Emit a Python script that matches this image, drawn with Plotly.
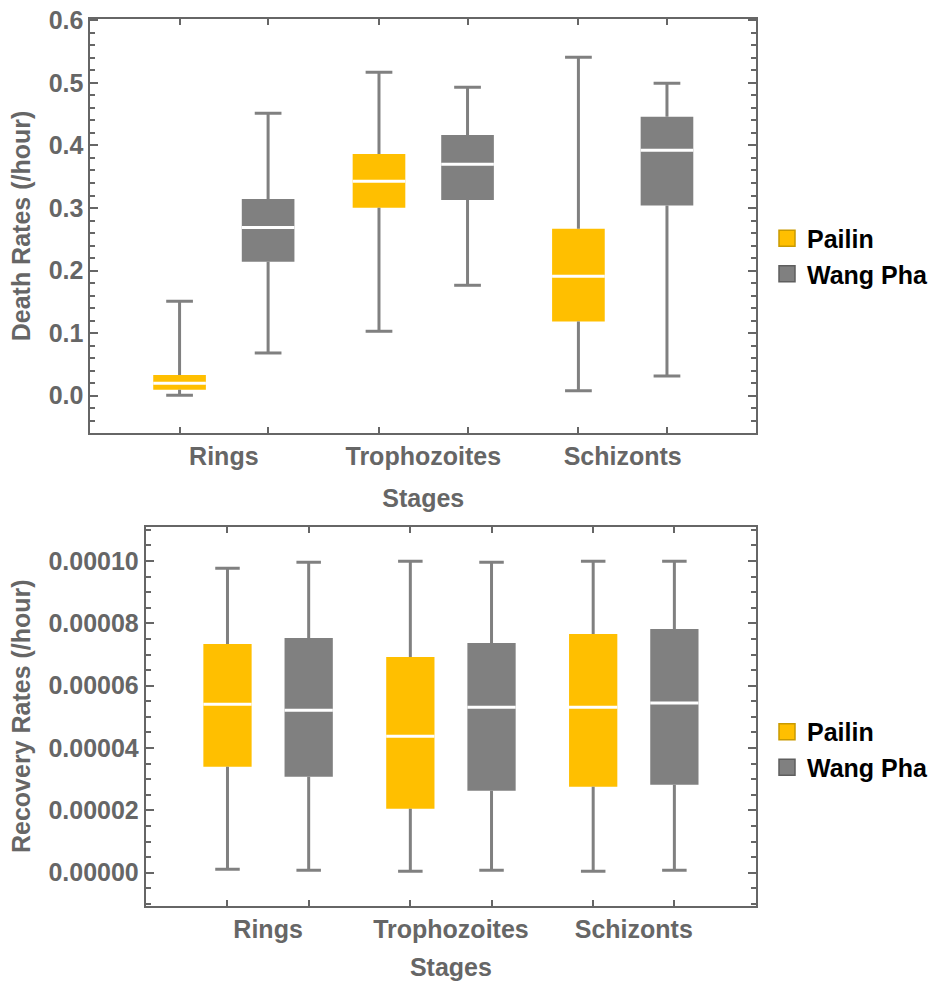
import plotly.graph_objects as go

# ---------------- data ----------------
stages = ["Rings", "Trophozoites", "Schizonts"]
series_names = ["Pailin", "Wang Pha"]

death_lower_pailin = [0.0006, 0.103, 0.008]
death_q1_pailin = [0.0096, 0.3005, 0.1187]
death_median_pailin = [0.0198, 0.3427, 0.191]
death_q3_pailin = [0.033, 0.3863, 0.2668]
death_upper_pailin = [0.151, 0.517, 0.541]

death_lower_wang = [0.0683, 0.1765, 0.0314]
death_q1_wang = [0.2142, 0.3128, 0.304]
death_median_wang = [0.269, 0.370, 0.3925]
death_q3_wang = [0.3144, 0.4167, 0.4457]
death_upper_wang = [0.4514, 0.493, 0.4995]

rec_lower_pailin = [1.1e-6, 0.45e-6, 0.45e-6]
rec_q1_pailin = [3.40e-5, 2.05e-5, 2.76e-5]
rec_median_pailin = [5.40e-5, 4.38e-5, 5.31e-5]
rec_q3_pailin = [7.34e-5, 6.92e-5, 7.66e-5]
rec_upper_pailin = [9.77e-5, 9.99e-5, 9.99e-5]

rec_lower_wang = [0.77e-6, 0.77e-6, 0.77e-6]
rec_q1_wang = [3.08e-5, 2.63e-5, 2.82e-5]
rec_median_wang = [5.21e-5, 5.31e-5, 5.44e-5]
rec_q3_wang = [7.53e-5, 7.37e-5, 7.82e-5]
rec_upper_wang = [9.96e-5, 9.96e-5, 9.99e-5]

death_ticks = [0.0, 0.1, 0.2, 0.3, 0.4, 0.5, 0.6]
rec_ticks = [0.0, 2e-5, 4e-5, 6e-5, 8e-5, 1e-4]

# ---------------- style ----------------
YELLOW = "#FFBF00"
GRAY = "#808080"
AXC = "#666666"
FONT = "Liberation Sans, Arial, sans-serif"
FS = 25
OFFSET = 0.222
BOXW = 0.264
CAPW = 0.134

W, H = 934, 981

fig = go.Figure()


def add_series(xa, ya, legend, name, color, edge, dx, lo, q1, med, q3, up, show_legend):
    xs = [i + dx for i in range(len(stages))]
    # box body
    fig.add_trace(go.Bar(
        x=xs, base=q1, y=[b - a for a, b in zip(q1, q3)], width=BOXW,
        marker=dict(color=color, line=dict(width=0)),
        xaxis=xa, yaxis=ya, showlegend=False, hoverinfo="skip"))
    # whiskers and caps
    wx, wy = [], []
    for x, l, a, b, u in zip(xs, lo, q1, q3, up):
        wx += [x, x, None, x, x, None,
               x - CAPW / 2, x + CAPW / 2, None, x - CAPW / 2, x + CAPW / 2, None]
        wy += [l, a, None, b, u, None, l, l, None, u, u, None]
    fig.add_trace(go.Scatter(
        x=wx, y=wy, mode="lines", line=dict(color=GRAY, width=3),
        xaxis=xa, yaxis=ya, showlegend=False, hoverinfo="skip"))
    # median
    mx, my = [], []
    for x, m in zip(xs, med):
        mx += [x - BOXW / 2, x + BOXW / 2, None]
        my += [m, m, None]
    fig.add_trace(go.Scatter(
        x=mx, y=my, mode="lines", line=dict(color="white", width=3),
        xaxis=xa, yaxis=ya, showlegend=False, hoverinfo="skip"))
    # legend entry
    fig.add_trace(go.Scatter(
        x=[None], y=[None], mode="markers", name=name,
        marker=dict(symbol="square", size=16, color=color, line=dict(color=edge, width=1.5)),
        xaxis=xa, yaxis=ya, legend=legend, showlegend=show_legend))


add_series("x", "y", "legend", "Pailin", YELLOW, "#C99A00", -OFFSET,
           death_lower_pailin, death_q1_pailin, death_median_pailin, death_q3_pailin, death_upper_pailin, True)
add_series("x", "y", "legend", "Wang Pha", GRAY, "#5E5E5E", OFFSET,
           death_lower_wang, death_q1_wang, death_median_wang, death_q3_wang, death_upper_wang, True)
add_series("x2", "y2", "legend2", "Pailin", YELLOW, "#C99A00", -OFFSET,
           rec_lower_pailin, rec_q1_pailin, rec_median_pailin, rec_q3_pailin, rec_upper_pailin, True)
add_series("x2", "y2", "legend2", "Wang Pha", GRAY, "#5E5E5E", OFFSET,
           rec_lower_wang, rec_q1_wang, rec_median_wang, rec_q3_wang, rec_upper_wang, True)

tickfont = dict(family=FONT, size=FS, color=AXC, weight="bold")
titlefont = dict(family=FONT, size=FS, color=AXC, weight="bold")
box_positions = [i + d for i in range(len(stages)) for d in (-OFFSET, OFFSET)]


def xaxis_cfg(domain, anchor):
    return dict(
        domain=domain, anchor=anchor, range=[-0.669, 2.669], automargin=False,
        tickmode="array", tickvals=list(range(len(stages))), ticktext=stages,
        ticks="", showline=True, linecolor=AXC, linewidth=2, mirror="allticks",
        showgrid=False, zeroline=False, tickfont=tickfont,
        minor=dict(tickmode="array", tickvals=box_positions, ticks="inside",
                   ticklen=6, tickwidth=2, tickcolor=AXC, showgrid=False),
        title=dict(text="Stages", font=titlefont, standoff=20),
        fixedrange=True,
    )


def yaxis_cfg(domain, anchor, rng, tickvals, fmt, minor_dtick, standoff):
    return dict(
        domain=domain, anchor=anchor, range=rng, automargin=False,
        tickmode="array", tickvals=tickvals, tickformat=fmt,
        ticks="inside", ticklen=8, tickwidth=2, tickcolor=AXC,
        showline=True, linecolor=AXC, linewidth=2, mirror="allticks",
        showgrid=False, zeroline=False, tickfont=tickfont,
        minor=dict(dtick=minor_dtick, tick0=0, ticks="inside", ticklen=5,
                   tickwidth=2, tickcolor=AXC, showgrid=False),
        title=dict(font=titlefont, standoff=standoff),
        fixedrange=True,
    )


top_y = yaxis_cfg([1 - 433 / H, 1 - 19 / H], "x", [-0.0596, 0.6021], death_ticks, ".1f", 0.02, 11)
top_y["title"]["text"] = "Death Rates (/hour)"
bot_y = yaxis_cfg([1 - 905.7 / H, 1 - 526.7 / H], "x2", [-1.059e-5, 1.110e-4], rec_ticks, ".5f", 5e-6, 11)
bot_y["title"]["text"] = "Recovery Rates (/hour)"

legend_font = dict(family=FONT, size=FS, color="black", weight="bold")

fig.update_layout(
    width=W, height=H,
    margin=dict(l=0, r=0, t=0, b=0),
    paper_bgcolor="white", plot_bgcolor="white",
    barmode="overlay",
    xaxis=xaxis_cfg([91 / W, 761 / W], "y"),
    yaxis=top_y,
    xaxis2=xaxis_cfg([146.7 / W, 761 / W], "y2"),
    yaxis2=bot_y,
    legend=dict(x=772 / W, xanchor="left", y=1 - 256 / H, yanchor="middle",
                font=legend_font, bgcolor="rgba(0,0,0,0)", itemwidth=30),
    legend2=dict(x=772 / W, xanchor="left", y=1 - 749.4 / H, yanchor="middle",
                 font=legend_font, bgcolor="rgba(0,0,0,0)", itemwidth=30),
    showlegend=True,
)

fig.write_html("out.html")
